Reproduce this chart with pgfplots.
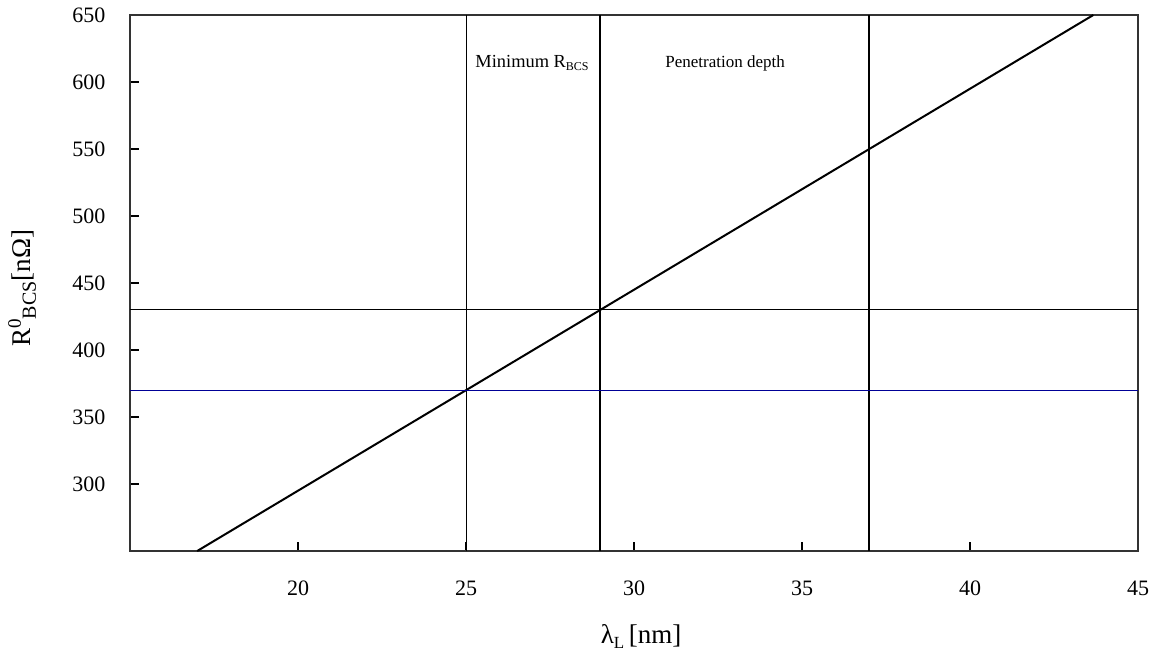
\documentclass[border=0pt]{standalone}
\usepackage{pgfplots}
\pgfplotsset{compat=1.18}
\usepackage{fontspec}
\setmainfont{Liberation Serif}
\definecolor{navyline}{RGB}{0,0,150}
\begin{document}
\begin{tikzpicture}
\path[use as bounding box] (0,0) rectangle (580pt,327pt);
\begin{axis}[
  at={(65pt,51.5pt)}, anchor=south west,
  scale only axis, width=504pt, height=268pt,
  xmin=15, xmax=45, ymin=250, ymax=650,
  xtick={20,25,30,35,40,45},
  ytick={300,350,400,450,500,550,600,650},
  tick pos=left, tick align=inside,
  major tick length=4.5pt,
  every tick/.style={black, line width=0.6pt},
  axis line style={line width=1pt, black!80},
  /pgf/number format/assume math mode=true,
  ticklabel style={font=\fontsize{11}{13}\selectfont},
  xticklabel shift=11.5pt,
  yticklabel shift=8.8pt,
  clip=false,
]
\addplot[black, line width=1pt] coordinates {(17,250) (43.67,650)};
\addplot[black, line width=0.5pt] coordinates {(25,250) (25,650)};
\addplot[black, line width=1pt] coordinates {(29,250) (29,650)};
\addplot[black, line width=1pt] coordinates {(37,250) (37,650)};
\addplot[black, line width=0.5pt] coordinates {(15,430) (45,430)};
\addplot[navyline, line width=0.6pt] coordinates {(15,370) (45,370)};
\node[anchor=base west, inner sep=0pt, font=\fontsize{9.2}{11}\selectfont] at (axis cs:25.27,611) {Minimum R\raisebox{-0.35ex}{\fontsize{6}{7}\selectfont BCS}};
\node[anchor=base west, inner sep=0pt, font=\fontsize{8.5}{10}\selectfont] at (axis cs:30.92,611) {Penetration depth};
\node[rotate=90, anchor=center, inner sep=0pt, font=\fontsize{13.5}{15}\selectfont] at (rel axis cs:-0.107,0.49) {R\raisebox{0.75ex}{\fontsize{9.5}{11}\selectfont 0}\raisebox{-0.45ex}{\fontsize{10}{11}\selectfont BCS}[nΩ]};
\node[anchor=center, inner sep=0pt, font=\fontsize{13.5}{15}\selectfont] at (rel axis cs:0.507,-0.16) {λ\raisebox{-0.4ex}{\fontsize{8.5}{9}\selectfont L}\,[nm]};
\end{axis}
\end{tikzpicture}
\end{document}
